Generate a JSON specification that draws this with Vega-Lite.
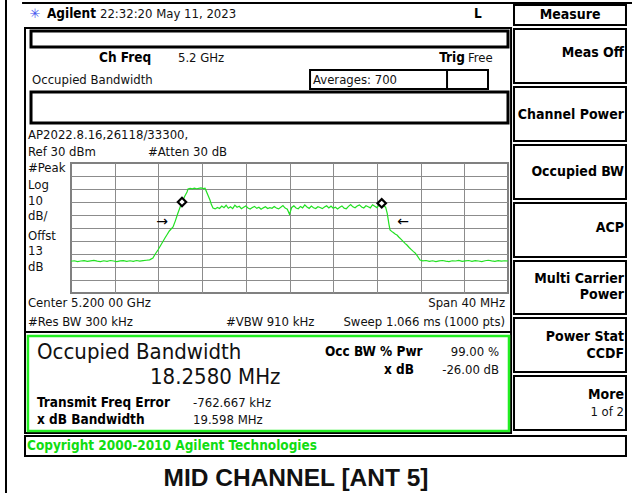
{
  "$schema": "https://vega.github.io/schema/vega-lite/v6.json",
  "width": 437,
  "height": 130,
  "autosize": {"type": "none"},
  "padding": {"left": 71, "top": 163, "right": 135, "bottom": 200},
  "background": "white",
  "config": {
    "view": {"stroke": "#808080", "strokeWidth": 2},
    "axis": {"labels": false, "ticks": false, "domain": false, "title": null, "grid": true, "gridColor": "#8c8c8c", "gridWidth": 1, "gridOpacity": 1}
  },
  "datasets": {
    "trace": [
      {"freq":5180.0,"level":-45.6},{"freq":5180.3,"level":-45.2},{"freq":5180.6,"level":-45.9},{"freq":5180.9,"level":-45.4},
      {"freq":5181.2,"level":-45.1},{"freq":5181.5,"level":-45.7},{"freq":5181.8,"level":-45.3},{"freq":5182.1,"level":-44.9},
      {"freq":5182.4,"level":-45.5},{"freq":5182.7,"level":-45.8},{"freq":5183.0,"level":-45.2},{"freq":5183.3,"level":-45.6},
      {"freq":5183.6,"level":-45.0},{"freq":5183.9,"level":-45.4},{"freq":5184.2,"level":-45.9},{"freq":5184.5,"level":-45.3},
      {"freq":5184.8,"level":-45.1},{"freq":5185.1,"level":-45.6},{"freq":5185.4,"level":-45.2},{"freq":5185.7,"level":-45.7},
      {"freq":5186.0,"level":-45.0},{"freq":5186.3,"level":-45.4},{"freq":5186.6,"level":-45.1},{"freq":5186.9,"level":-44.8},
      {"freq":5187.2,"level":-44.5},{"freq":5187.5,"level":-43.1},{"freq":5187.7,"level":-40.2},{"freq":5187.96,"level":-36.9},
      {"freq":5188.2,"level":-33.5},{"freq":5188.4,"level":-30.6},{"freq":5188.6,"level":-27.7},{"freq":5188.8,"level":-25.0},
      {"freq":5189.0,"level":-22.3},{"freq":5189.34,"level":-19.2},{"freq":5189.55,"level":-14.5},{"freq":5189.79,"level":-8.5},
      {"freq":5190.0,"level":-3.6},{"freq":5190.16,"level":0.0},{"freq":5190.4,"level":4.2},{"freq":5190.62,"level":7.7},
      {"freq":5190.71,"level":10.0},{"freq":5190.9,"level":10.4},{"freq":5191.1,"level":10.1},{"freq":5191.3,"level":10.6},
      {"freq":5191.5,"level":10.2},{"freq":5191.7,"level":10.5},{"freq":5191.9,"level":10.8},{"freq":5192.1,"level":10.3},
      {"freq":5192.27,"level":10.6},{"freq":5192.5,"level":6.0},{"freq":5192.72,"level":1.5},{"freq":5192.85,"level":-2.0},
      {"freq":5193.0,"level":-4.6},{"freq":5193.2,"level":-5.3},{"freq":5193.4,"level":-4.2},{"freq":5193.6,"level":-5.0},
      {"freq":5193.8,"level":-3.1},{"freq":5194.0,"level":-4.4},{"freq":5194.2,"level":-2.5},{"freq":5194.4,"level":-4.8},
      {"freq":5194.6,"level":-3.6},{"freq":5194.8,"level":-5.1},{"freq":5195.0,"level":-2.4},{"freq":5195.2,"level":-4.0},
      {"freq":5195.4,"level":-3.3},{"freq":5195.6,"level":-5.2},{"freq":5195.8,"level":-4.1},{"freq":5196.0,"level":-3.0},
      {"freq":5196.2,"level":-4.6},{"freq":5196.4,"level":-5.4},{"freq":5196.6,"level":-4.3},{"freq":5196.8,"level":-3.4},
      {"freq":5197.0,"level":-4.9},{"freq":5197.2,"level":-4.0},{"freq":5197.4,"level":-5.6},{"freq":5197.6,"level":-4.5},
      {"freq":5197.8,"level":-3.6},{"freq":5198.0,"level":-5.0},{"freq":5198.2,"level":-4.3},{"freq":5198.4,"level":-4.8},
      {"freq":5198.6,"level":-3.5},{"freq":5198.8,"level":-4.6},{"freq":5199.0,"level":-5.3},{"freq":5199.2,"level":-4.1},
      {"freq":5199.4,"level":-2.8},{"freq":5199.6,"level":-4.7},{"freq":5199.8,"level":-5.5},{"freq":5200.0,"level":-9.5},
      {"freq":5200.2,"level":-4.2},{"freq":5200.4,"level":-3.0},{"freq":5200.6,"level":-4.6},{"freq":5200.8,"level":-5.2},
      {"freq":5201.0,"level":-3.4},{"freq":5201.2,"level":-4.5},{"freq":5201.4,"level":-2.2},{"freq":5201.6,"level":-3.8},
      {"freq":5201.8,"level":-4.9},{"freq":5202.0,"level":-3.1},{"freq":5202.2,"level":-4.4},{"freq":5202.4,"level":-5.0},
      {"freq":5202.6,"level":-3.6},{"freq":5202.8,"level":-4.2},{"freq":5203.0,"level":-5.1},{"freq":5203.2,"level":-3.9},
      {"freq":5203.4,"level":-2.9},{"freq":5203.6,"level":-4.5},{"freq":5203.8,"level":-3.2},{"freq":5204.0,"level":-4.8},
      {"freq":5204.2,"level":-4.0},{"freq":5204.4,"level":-5.3},{"freq":5204.6,"level":-4.1},{"freq":5204.8,"level":-3.0},
      {"freq":5205.0,"level":-4.7},{"freq":5205.2,"level":-5.2},{"freq":5205.4,"level":-3.4},{"freq":5205.6,"level":-1.9},
      {"freq":5205.8,"level":-3.7},{"freq":5206.0,"level":-4.4},{"freq":5206.2,"level":-3.1},{"freq":5206.4,"level":-2.2},
      {"freq":5206.6,"level":-3.8},{"freq":5206.8,"level":-4.6},{"freq":5207.0,"level":-2.9},{"freq":5207.2,"level":-3.6},
      {"freq":5207.4,"level":-4.5},{"freq":5207.6,"level":-2.1},{"freq":5207.8,"level":-3.2},{"freq":5208.0,"level":-4.3},
      {"freq":5208.2,"level":-2.4},{"freq":5208.4,"level":-1.8},{"freq":5208.6,"level":-2.9},{"freq":5208.8,"level":-4.0},
      {"freq":5208.95,"level":-9.0},{"freq":5209.1,"level":-17.0},{"freq":5209.2,"level":-21.5},{"freq":5209.35,"level":-22.6},
      {"freq":5209.5,"level":-23.5},{"freq":5209.7,"level":-24.8},{"freq":5209.84,"level":-25.4},{"freq":5210.0,"level":-26.9},
      {"freq":5210.2,"level":-28.6},{"freq":5210.4,"level":-30.3},{"freq":5210.6,"level":-32.0},{"freq":5210.75,"level":-33.1},
      {"freq":5210.95,"level":-35.0},{"freq":5211.15,"level":-36.6},{"freq":5211.35,"level":-38.2},{"freq":5211.5,"level":-39.2},
      {"freq":5211.7,"level":-41.4},{"freq":5211.95,"level":-44.6},{"freq":5212.2,"level":-45.3},{"freq":5212.5,"level":-45.0},
      {"freq":5212.8,"level":-45.6},{"freq":5213.1,"level":-45.2},{"freq":5213.4,"level":-45.8},{"freq":5213.7,"level":-45.3},
      {"freq":5214.0,"level":-45.0},{"freq":5214.3,"level":-45.5},{"freq":5214.6,"level":-45.9},{"freq":5214.9,"level":-45.2},
      {"freq":5215.2,"level":-45.4},{"freq":5215.5,"level":-44.9},{"freq":5215.8,"level":-45.6},{"freq":5216.1,"level":-45.3},
      {"freq":5216.4,"level":-45.0},{"freq":5216.7,"level":-45.7},{"freq":5217.0,"level":-45.1},{"freq":5217.3,"level":-45.4},
      {"freq":5217.6,"level":-45.8},{"freq":5217.9,"level":-45.2},{"freq":5218.2,"level":-44.8},{"freq":5218.5,"level":-45.3},
      {"freq":5218.8,"level":-45.6},{"freq":5219.1,"level":-45.1},{"freq":5219.4,"level":-45.5},{"freq":5219.7,"level":-45.2},
      {"freq":5220.0,"level":-45.4}
    ],
    "markers": [{"freq":5190.16,"level":0.0},{"freq":5208.44,"level":-1.0}],
    "arrows": [{"freq":5188.33,"level":-15.4,"label":"→"},{"freq":5210.39,"level":-15.4,"label":"←"}],
    "boxes": [
      {"box":"Measure","freq":5220.55,"freq2":5230.8,"level":151.54,"level2":136.15},
      {"box":"Meas Off","freq":5220.55,"freq2":5230.8,"level":133.08,"level2":91.54},
      {"box":"Channel Power","freq":5220.55,"freq2":5230.8,"level":88.46,"level2":46.92},
      {"box":"Occupied BW","freq":5220.55,"freq2":5230.8,"level":43.85,"level2":2.31},
      {"box":"ACP","freq":5220.55,"freq2":5230.8,"level":-0.77,"level2":-42.31},
      {"box":"Multi Carrier Power","freq":5220.55,"freq2":5230.8,"level":-45.38,"level2":-86.15},
      {"box":"Power Stat CCDF","freq":5220.55,"freq2":5230.8,"level":-89.23,"level2":-130.77},
      {"box":"More","freq":5220.55,"freq2":5230.8,"level":-133.85,"level2":-175.38},
      {"box":"Display","freq":5175.79,"freq2":5220.28,"level":133.85,"level2":-177.69},
      {"box":"Copyright","freq":5175.79,"freq2":5230.8,"level":-180.0,"level2":-195.38},
      {"box":"Averages","freq":5201.88,"freq2":5218.17,"level":101.54,"level2":86.92}
    ],
    "bars": [
      {"box":"Message 1","freq":5176.34,"freq2":5220.0,"level":131.54,"level2":119.23},
      {"box":"Message 2","freq":5176.34,"freq2":5220.0,"level":84.62,"level2":60.77}
    ],
    "result": [{"box":"Result","freq":5176.06,"freq2":5220.09,"level":-103.08,"level2":-176.15}],
    "lines": [
      {"line":"page left","freq":5174.05,"freq2":5174.05,"level":155.38,"level2":-223.85},
      {"line":"page top","freq":5175.52,"freq2":5231.35,"level":153.08,"level2":153.08},
      {"line":"separator","freq":5175.79,"freq2":5220.28,"level":-100.0,"level2":-100.0},
      {"line":"averages divider","freq":5214.42,"freq2":5214.42,"level":101.54,"level2":86.92}
    ],
    "texts": [
      {"role":"plain","label":"22:32:20  May 11, 2023","freq":5182.65,"level":144.62},
      {"role":"plain","label":"Occupied Bandwidth","freq":5176.43,"level":93.85},
      {"role":"plain","label":"5.2 GHz","freq":5189.79,"level":110.77},
      {"role":"plain","label":"Free","freq":5216.34,"level":110.77},
      {"role":"plain","label":"Averages: 700","freq":5202.15,"level":93.85},
      {"role":"plain","label":"AP2022.8.16,26118/33300,","freq":5176.06,"level":51.54},
      {"role":"plain","label":"Ref 30 dBm","freq":5176.06,"level":38.46},
      {"role":"plain","label":"#Atten 30 dB","freq":5187.05,"level":38.46},
      {"role":"plain","label":"#Peak","freq":5176.06,"level":26.15},
      {"role":"plain","label":"Log","freq":5176.06,"level":13.08},
      {"role":"plain","label":"10","freq":5176.06,"level":0.77},
      {"role":"plain","label":"dB/","freq":5176.06,"level":-10.77},
      {"role":"plain","label":"Offst","freq":5176.06,"level":-26.15},
      {"role":"plain","label":"13","freq":5176.06,"level":-37.69},
      {"role":"plain","label":"dB","freq":5176.06,"level":-50.0},
      {"role":"plain","label":"Center 5.200 00 GHz","freq":5176.06,"level":-77.69},
      {"role":"plain","label":"#Res BW 300 kHz","freq":5176.06,"level":-92.31},
      {"role":"plain","label":"#VBW 910 kHz","freq":5194.19,"level":-92.31},
      {"role":"plain","label":"-762.667 kHz","freq":5191.17,"level":-154.62},
      {"role":"plain","label":"19.598 MHz","freq":5191.17,"level":-167.69},
      {"role":"plainR","label":"Span 40 MHz","freq":5219.73,"level":-77.69},
      {"role":"plainR","label":"Sweep 1.066 ms (1000 pts)","freq":5219.73,"level":-92.31},
      {"role":"plainR","label":"99.00 %","freq":5219.18,"level":-115.38},
      {"role":"plainR","label":"-26.00 dB","freq":5219.18,"level":-129.23},
      {"role":"plainR","label":"1 of 2","freq":5230.62,"level":-161.54},
      {"role":"boldR","label":"Agilent","freq":5182.29,"level":144.62},
      {"role":"bold","label":"Ch Freq","freq":5182.56,"level":110.77},
      {"role":"boldR","label":"Trig","freq":5216.06,"level":110.77},
      {"role":"bold","label":"L","freq":5216.89,"level":144.62},
      {"role":"bold","label":"Occ BW % Pwr","freq":5203.25,"level":-115.38},
      {"role":"bold","label":"Transmit Freq Error","freq":5176.89,"level":-154.62},
      {"role":"bold","label":"x dB Bandwidth","freq":5176.89,"level":-167.69},
      {"role":"boldR","label":"x dB","freq":5211.4,"level":-129.23},
      {"role":"key","label":"Meas Off","freq":5230.62,"level":114.62},
      {"role":"key","label":"Channel Power","freq":5230.62,"level":66.92},
      {"role":"key","label":"Occupied BW","freq":5230.62,"level":23.08},
      {"role":"key","label":"ACP","freq":5230.62,"level":-20.0},
      {"role":"key","label":"Multi Carrier","freq":5230.62,"level":-59.23},
      {"role":"key","label":"Power","freq":5230.62,"level":-71.54},
      {"role":"key","label":"Power Stat","freq":5230.62,"level":-103.85},
      {"role":"key","label":"CCDF","freq":5230.62,"level":-116.92},
      {"role":"key","label":"More","freq":5230.62,"level":-148.46},
      {"role":"keyC","label":"Measure","freq":5225.68,"level":143.85},
      {"role":"big","label":"Occupied Bandwidth","freq":5176.89,"level":-115.38},
      {"role":"big","label":"18.2580 MHz","freq":5187.23,"level":-134.62},
      {"role":"copy","label":"Copyright 2000-2010 Agilent Technologies","freq":5175.97,"level":-187.69},
      {"role":"title","label":"MID CHANNEL [ANT 5]","freq":5200.6,"level":-213.08},
      {"role":"logo","label":"✳","freq":5176.7,"level":144.62}
    ]
  },
  "encoding": {
    "x": {"field": "freq", "type": "quantitative", "scale": {"domain": [5180, 5220], "nice": false, "zero": false},
          "axis": {"values": [5184, 5188, 5192, 5196, 5200, 5204, 5208, 5212, 5216]}},
    "y": {"field": "level", "type": "quantitative", "scale": {"domain": [-70, 30], "nice": false, "zero": false},
          "axis": {"values": [-60, -50, -40, -30, -20, -10, 0, 10, 20]}}
  },
  "layer": [
    {"data": {"name": "lines"}, "mark": {"type": "rule", "color": "black", "strokeWidth": 2},
     "encoding": {"x2": {"field": "freq2"}, "y2": {"field": "level2"}}},
    {"data": {"name": "boxes"}, "mark": {"type": "rect", "filled": false, "stroke": "black", "strokeWidth": 2},
     "encoding": {"x2": {"field": "freq2"}, "y2": {"field": "level2"}}},
    {"data": {"name": "bars"}, "mark": {"type": "rect", "filled": false, "stroke": "black", "strokeWidth": 3},
     "encoding": {"x2": {"field": "freq2"}, "y2": {"field": "level2"}}},
    {"data": {"name": "result"}, "mark": {"type": "rect", "filled": false, "stroke": "#22ee22", "strokeWidth": 2.5},
     "encoding": {"x2": {"field": "freq2"}, "y2": {"field": "level2"}}},
    {"data": {"name": "trace"}, "mark": {"type": "line", "color": "#22e022", "strokeWidth": 1.2, "interpolate": "linear"}},
    {"data": {"name": "markers"}, "mark": {"type": "point", "shape": "diamond", "size": 70, "filled": true, "fill": "white", "stroke": "black", "strokeWidth": 2.2, "opacity": 1}},
    {"data": {"name": "arrows"}, "mark": {"type": "text", "fontSize": 14, "font": "DejaVu Sans", "color": "black", "align": "center", "baseline": "middle"},
     "encoding": {"text": {"field": "label"}}},
    {"data": {"name": "texts"}, "transform": [{"filter": "datum.role == 'plain'"}],
     "mark": {"type": "text", "align": "left", "baseline": "middle", "fontSize": 13, "font": "DejaVu Sans Condensed, Liberation Sans Narrow, sans-serif", "color": "#111"},
     "encoding": {"text": {"field": "label"}}},
    {"data": {"name": "texts"}, "transform": [{"filter": "datum.role == 'plainR'"}],
     "mark": {"type": "text", "align": "right", "baseline": "middle", "fontSize": 13, "font": "DejaVu Sans Condensed, Liberation Sans Narrow, sans-serif", "color": "#111"},
     "encoding": {"text": {"field": "label"}}},
    {"data": {"name": "texts"}, "transform": [{"filter": "datum.role == 'bold'"}],
     "mark": {"type": "text", "align": "left", "baseline": "middle", "fontSize": 13.5, "fontWeight": "bold", "font": "DejaVu Sans Condensed, Liberation Sans Narrow, sans-serif", "color": "black"},
     "encoding": {"text": {"field": "label"}}},
    {"data": {"name": "texts"}, "transform": [{"filter": "datum.role == 'boldR'"}],
     "mark": {"type": "text", "align": "right", "baseline": "middle", "fontSize": 13.5, "fontWeight": "bold", "font": "DejaVu Sans Condensed, Liberation Sans Narrow, sans-serif", "color": "black"},
     "encoding": {"text": {"field": "label"}}},
    {"data": {"name": "texts"}, "transform": [{"filter": "datum.role == 'key'"}],
     "mark": {"type": "text", "align": "right", "baseline": "middle", "fontSize": 14, "fontWeight": "bold", "font": "DejaVu Sans Condensed, Liberation Sans Narrow, sans-serif", "color": "black"},
     "encoding": {"text": {"field": "label"}}},
    {"data": {"name": "texts"}, "transform": [{"filter": "datum.role == 'keyC'"}],
     "mark": {"type": "text", "align": "center", "baseline": "middle", "fontSize": 14, "fontWeight": "bold", "font": "DejaVu Sans Condensed, Liberation Sans Narrow, sans-serif", "color": "black"},
     "encoding": {"text": {"field": "label"}}},
    {"data": {"name": "texts"}, "transform": [{"filter": "datum.role == 'big'"}],
     "mark": {"type": "text", "align": "left", "baseline": "middle", "fontSize": 22, "font": "DejaVu Sans Condensed, Liberation Sans Narrow, sans-serif", "color": "#111"},
     "encoding": {"text": {"field": "label"}}},
    {"data": {"name": "texts"}, "transform": [{"filter": "datum.role == 'copy'"}],
     "mark": {"type": "text", "align": "left", "baseline": "middle", "fontSize": 13.5, "fontWeight": "bold", "font": "DejaVu Sans Condensed, Liberation Sans Narrow, sans-serif", "color": "#11dd11"},
     "encoding": {"text": {"field": "label"}}},
    {"data": {"name": "texts"}, "transform": [{"filter": "datum.role == 'title'"}],
     "mark": {"type": "text", "align": "center", "baseline": "middle", "fontSize": 24.5, "fontWeight": "bold", "font": "Liberation Sans, Arial, sans-serif", "color": "#111"},
     "encoding": {"text": {"field": "label"}}},
    {"data": {"name": "texts"}, "transform": [{"filter": "datum.role == 'logo'"}],
     "mark": {"type": "text", "align": "center", "baseline": "middle", "fontSize": 13, "font": "DejaVu Sans", "color": "#4455ee"},
     "encoding": {"text": {"field": "label"}}}
  ]
}
